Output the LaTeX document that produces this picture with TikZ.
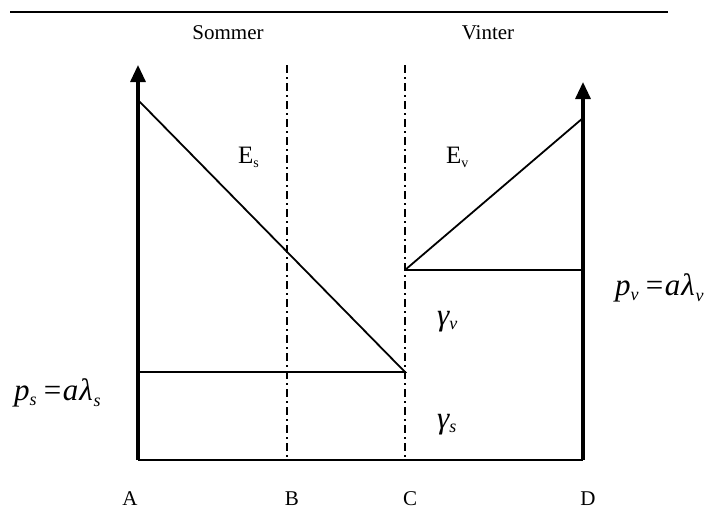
\documentclass[tikz,border=0pt]{standalone}
\usepackage{fontspec}
\setmainfont{Liberation Serif}
\usetikzlibrary{arrows.meta}
\newcommand\lowsub[3]{\raisebox{-#1}{\fontsize{#2}{#2}\selectfont #3}}
\begin{document}
\begin{tikzpicture}[x=1pt,y=-1pt,
  axisline/.style={line width=3.2pt},
  thinline/.style={line width=1.8pt},
  ddline/.style={line width=2pt, dash pattern=on 8pt off 4pt on 2pt off 4pt},
  lab/.style={font=\fontsize{21}{21}\selectfont, inner sep=0pt},
  elab/.style={font=\fontsize{25}{25}\selectfont, inner sep=0pt, anchor=base west},
  eq/.style={font=\fontsize{31}{31}\selectfont\itshape, inner sep=0pt, anchor=base west},
  tipped/.style={-{Triangle[width=15pt,length=17pt]}}]
\useasboundingbox (0,0) rectangle (715,525);
% coordinates
\coordinate (T0) at (10,12); \coordinate (T1) at (668,12);
\coordinate (A0) at (138,460); \coordinate (A1) at (138,65);
\coordinate (D0) at (583,460); \coordinate (D1) at (583,82);
\coordinate (B0) at (287,460); \coordinate (B1) at (287,65);
\coordinate (C0) at (405,460); \coordinate (C1) at (405,65);
\coordinate (Es0) at (138,100); \coordinate (Es1) at (405,372); \coordinate (Ps) at (138,372);
\coordinate (Ev0) at (405,270); \coordinate (Ev1) at (583,118); \coordinate (Pv) at (583,270);
% top rule
\draw[line width=2.6pt] (T0) -- (T1);
% dash-dot separators
\draw[ddline] (B1) -- (B0);
\draw[ddline] (C1) -- (C0);
% axes
\draw[axisline, tipped] (A0) -- (A1);
\draw[axisline, tipped] (D0) -- (D1);
\draw[line width=2.6pt] (A0) -- (D0);
% lines
\draw[thinline] (Es0) -- (Es1) -- (Ps);
\draw[thinline] (Ev0) -- (Ev1);
\draw[thinline] (Ev0) -- (Pv);
% labels
\node[lab] (som) at (228,33) {Sommer};
\node[lab] (vin) at (488,33) {Vinter};
\node[elab] (es) at (238,163) {E\lowsub{4pt}{14}{s}};
\node[elab] (ev) at (446,163) {E\lowsub{4pt}{14}{v}};
\node[eq] (gv) at (437,325) {γ\lowsub{4pt}{18}{v}};
\node[eq] (gs) at (437,428) {γ\lowsub{4pt}{18}{s}};
\node[eq] (ps) at (14,400) {p\lowsub{5pt}{18}{s}\,=a\kern1ptλ\kern1pt\lowsub{6pt}{18}{s}};
\node[eq] (pv) at (615,295) {p\lowsub{5pt}{18}{v}\,=a\kern1ptλ\kern1pt\lowsub{6pt}{18}{v}};
\node[lab, anchor=base] (la) at (130,505) {A};
\node[lab, anchor=base] (lb) at (292,505) {B};
\node[lab, anchor=base] (lc) at (410,505) {C};
\node[lab, anchor=base] (ld) at (588,505) {D};
\end{tikzpicture}
\end{document}
